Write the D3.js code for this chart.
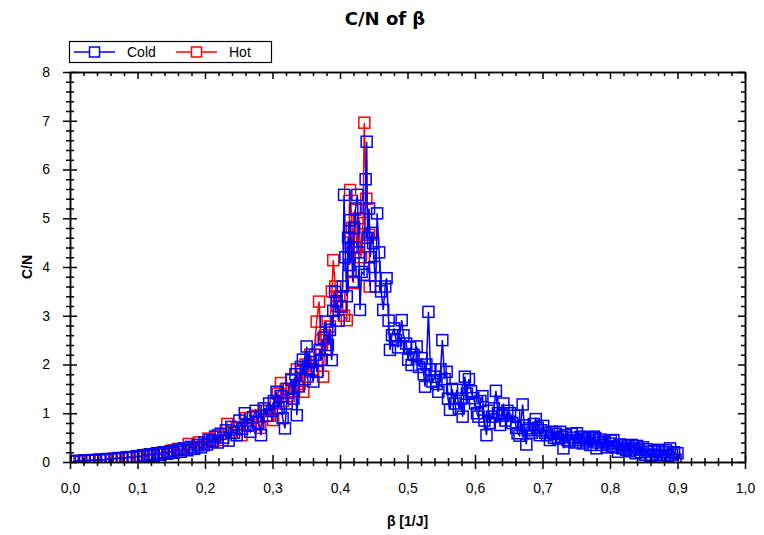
<!DOCTYPE html>
<html>
<head>
<meta charset="utf-8">
<script src="https://cdn.jsdelivr.net/npm/d3@7"></script>
<style>
  body { margin: 0; background: #fff; }
  svg text { font-family: "Liberation Sans", Arial, sans-serif; }
</style>
</head>
<body>
<svg id="chart" width="764" height="535"></svg>
<script>
// ---- data: [beta, C/N] ----
const cold = [
  [0.004,0.01],[0.010,0.02],[0.016,0.02],[0.022,0.03],[0.027,0.03],[0.033,0.04],[0.038,0.03],[0.044,0.05],
  [0.050,0.04],[0.055,0.06],[0.061,0.05],[0.066,0.07],[0.072,0.08],[0.077,0.07],[0.083,0.09],[0.088,0.10],
  [0.094,0.09],[0.099,0.12],[0.104,0.11],[0.109,0.14],[0.114,0.12],[0.119,0.16],[0.124,0.13],[0.129,0.18],
  [0.134,0.15],[0.139,0.20],[0.144,0.17],[0.149,0.22],[0.154,0.19],[0.159,0.25],[0.164,0.21],[0.169,0.28],
  [0.174,0.24],[0.179,0.31],[0.184,0.27],[0.189,0.35],[0.194,0.30],[0.199,0.40],[0.203,0.36],[0.207,0.45],
  [0.211,0.42],[0.215,0.52],[0.219,0.40],[0.223,0.58],[0.227,0.50],[0.231,0.65],[0.235,0.44],[0.239,0.72],
  [0.243,0.60],[0.247,0.55],[0.251,0.85],[0.255,0.68],[0.259,1.00],[0.263,0.75],[0.267,0.62],[0.271,0.92],
  [0.275,1.05],[0.279,0.80],[0.283,0.55],[0.287,1.10],[0.291,0.95],[0.295,1.20],[0.299,1.05],[0.302,1.25],
  [0.306,1.44],[0.309,1.10],[0.312,1.35],[0.315,0.90],[0.3185,0.69],[0.321,1.20],[0.324,1.50],[0.328,1.68],
  [0.331,1.30],[0.334,1.80],[0.336,0.96],[0.339,1.55],[0.342,1.95],[0.345,2.10],[0.348,1.70],[0.3506,2.37],
  [0.353,1.90],[0.356,2.05],[0.3605,1.65],[0.363,2.20],[0.366,1.85],[0.370,2.30],[0.373,2.10],[0.376,2.55],
  [0.379,2.88],[0.382,2.40],[0.385,2.71],[0.3877,2.09],[0.390,3.10],[0.3926,3.49],[0.395,3.30],[0.398,2.90],
  [0.401,3.19],[0.404,3.60],[0.406,5.48],[0.408,4.20],[0.410,3.40],[0.412,4.60],[0.414,4.04],[0.415,4.96],
  [0.417,4.40],[0.419,3.70],[0.421,4.80],[0.423,5.20],[0.4257,5.48],[0.428,4.30],[0.4296,3.12],[0.432,3.90],
  [0.4356,3.84],[0.438,5.80],[0.4395,6.57],[0.441,4.60],[0.443,5.20],[0.445,4.20],[0.447,4.70],[0.449,4.49],
  [0.451,4.00],[0.453,3.60],[0.455,5.10],[0.458,4.30],[0.461,3.50],[0.464,3.12],[0.467,3.60],[0.469,3.77],
  [0.472,2.90],[0.474,2.30],[0.477,2.60],[0.480,2.74],[0.483,2.50],[0.486,2.35],[0.4914,2.91],[0.494,2.60],
  [0.498,2.43],[0.501,2.10],[0.504,2.35],[0.506,1.99],[0.509,2.20],[0.5136,2.37],[0.517,1.95],[0.521,2.13],
  [0.524,1.80],[0.526,1.545],[0.528,2.00],[0.531,3.08],[0.534,1.90],[0.537,1.65],[0.5407,1.75],[0.543,1.60],
  [0.5457,1.44],[0.549,1.90],[0.5516,2.50],[0.555,1.70],[0.558,1.85],[0.560,1.30],[0.563,1.07],[0.566,1.50],
  [0.570,1.20],[0.573,1.48],[0.576,1.10],[0.579,1.30],[0.5817,0.93],[0.585,1.75],[0.588,1.40],[0.591,1.70],
  [0.594,1.45],[0.5975,1.31],[0.600,1.20],[0.603,1.00],[0.605,0.93],[0.608,1.25],[0.611,1.35],[0.614,0.85],
  [0.617,0.55],[0.620,1.05],[0.622,0.80],[0.625,0.93],[0.628,1.10],[0.631,1.46],[0.634,1.00],[0.637,0.76],
  [0.640,0.95],[0.642,1.20],[0.645,0.85],[0.648,1.05],[0.652,1.00],[0.655,0.80],[0.658,0.95],[0.661,0.70],
  [0.663,0.59],[0.666,0.54],[0.6706,1.18],[0.673,0.75],[0.676,0.36],[0.678,0.65],[0.681,0.69],[0.684,0.60],
  [0.687,0.78],[0.690,0.88],[0.693,0.70],[0.696,0.55],[0.698,0.65],[0.701,0.74],[0.704,0.60],[0.707,0.55],
  [0.711,0.45],[0.714,0.62],[0.717,0.50],[0.720,0.58],[0.723,0.48],[0.726,0.62],[0.729,0.52],[0.731,0.28],
  [0.734,0.55],[0.737,0.45],[0.740,0.42],[0.743,0.58],[0.746,0.50],[0.749,0.40],[0.751,0.59],[0.754,0.45],
  [0.757,0.52],[0.760,0.38],[0.763,0.48],[0.765,0.42],[0.768,0.50],[0.771,0.35],[0.774,0.45],[0.776,0.52],
  [0.778,0.49],[0.780,0.28],[0.783,0.40],[0.786,0.46],[0.789,0.35],[0.792,0.42],[0.795,0.30],[0.798,0.38],
  [0.801,0.44],[0.803,0.32],[0.805,0.45],[0.808,0.30],[0.812,0.21],[0.815,0.36],[0.818,0.28],[0.821,0.34],
  [0.824,0.25],[0.827,0.32],[0.830,0.22],[0.832,0.35],[0.835,0.28],[0.838,0.18],[0.840,0.33],[0.843,0.25],
  [0.846,0.20],[0.849,0.30],[0.852,0.15],[0.854,0.26],[0.857,0.21],[0.860,0.12],[0.862,0.04],[0.865,0.22],
  [0.868,0.15],[0.871,0.25],[0.874,0.10],[0.877,0.20],[0.880,0.14],[0.883,0.24],[0.886,0.12],[0.889,0.28],
  [0.892,0.15],[0.895,0.20],[0.897,0.05],[0.900,0.18]
];

const hot = [
  [0.006,0.02],[0.014,0.02],[0.021,0.03],[0.029,0.03],[0.037,0.04],[0.045,0.04],[0.053,0.05],[0.061,0.06],
  [0.069,0.06],[0.077,0.08],[0.085,0.09],[0.093,0.10],[0.101,0.11],[0.108,0.13],[0.116,0.15],[0.123,0.14],
  [0.131,0.18],[0.138,0.20],[0.146,0.19],[0.153,0.24],[0.161,0.27],[0.168,0.25],[0.176,0.37],[0.183,0.30],
  [0.191,0.40],[0.198,0.34],[0.205,0.48],[0.212,0.42],[0.219,0.55],[0.226,0.45],[0.233,0.78],[0.240,0.60],
  [0.247,0.70],[0.254,0.55],[0.261,0.90],[0.268,0.75],[0.275,0.95],[0.282,0.70],[0.289,1.05],[0.296,0.95],
  [0.301,0.86],[0.305,1.20],[0.308,1.40],[0.3126,1.62],[0.316,1.25],[0.320,1.50],[0.324,1.35],[0.328,1.70],
  [0.332,1.45],[0.336,1.90],[0.340,1.60],[0.343,1.85],[0.3457,1.44],[0.349,2.00],[0.352,1.75],[0.356,2.20],
  [0.360,1.90],[0.3654,2.88],[0.369,3.29],[0.372,2.50],[0.375,1.75],[0.378,2.60],[0.381,2.30],[0.385,2.78],
  [0.388,3.50],[0.390,4.14],[0.393,3.60],[0.396,3.20],[0.399,3.40],[0.4025,3.19],[0.406,3.00],[0.410,2.91],
  [0.413,4.50],[0.415,5.58],[0.418,4.80],[0.420,3.67],[0.422,5.17],[0.425,4.40],[0.428,5.00],[0.431,4.20],
  [0.434,4.90],[0.436,6.96],[0.439,5.40],[0.4434,4.66],[0.444,3.60]
];

const xTicks = [0, 0.1, 0.2, 0.3, 0.4, 0.5, 0.6, 0.7, 0.8, 0.9, 1.0];
const yTicks = [0, 1, 2, 3, 4, 5, 6, 7, 8];
const seriesNames = ['Cold', 'Hot'];
const seriesColors = ['#0000ff', '#ff0000'];

// ---- layout ----
const svg = d3.select('#chart');
const plotLeft = 70, plotRight = 745, plotTop = 72, plotBottom = 462;

const x = d3.scaleLinear().domain([0, 1]).range([plotLeft, plotRight]);
const y = d3.scaleLinear().domain([0, 8]).range([plotBottom, plotTop]);

const comma = v => d3.format('.1f')(v).replace('.', ',');

// title (wider face than the axis text)
svg.append('text')
  .attr('x', 385).attr('y', 25)
  .attr('text-anchor', 'middle')
  .style('font-family', '"DejaVu Sans", sans-serif')
  .attr('font-size', '18px').attr('font-weight', 'bold')
  .text('C/N of β');

// data layer (clipped to plot area)
svg.append('clipPath').attr('id', 'plotclip')
  .append('rect')
  .attr('x', plotLeft).attr('y', plotTop)
  .attr('width', plotRight - plotLeft).attr('height', plotBottom - plotTop);

const plot = svg.append('g').attr('clip-path', 'url(#plotclip)');

const line = d3.line().x(d => x(d[0])).y(d => y(d[1]));
const sq = 11;

function drawSeries(data, color) {
  const g = plot.append('g');
  g.append('path')
    .datum(data)
    .attr('fill', 'none')
    .attr('stroke', color)
    .attr('stroke-width', 1.5)
    .attr('d', line);
  g.selectAll('rect')
    .data(data)
    .join('rect')
    .attr('x', d => x(d[0]) - sq / 2)
    .attr('y', d => y(d[1]) - sq / 2)
    .attr('width', sq).attr('height', sq)
    .attr('fill', 'none')
    .attr('stroke', color)
    .attr('stroke-width', 1.5);
}

// Hot underneath, Cold on top
drawSeries(hot, seriesColors[1]);
drawSeries(cold, seriesColors[0]);

// ---- axes ----
const minorX = d3.range(0, 1.0001, 0.02).filter(v => Math.abs(v * 10 - Math.round(v * 10)) > 1e-6);
const minorY = d3.range(0, 8.0001, 0.2).filter(v => Math.abs(v - Math.round(v)) > 1e-6);

function styleAxis(g) {
  g.select('.domain').attr('stroke', '#000').attr('stroke-width', 1.5);
  g.selectAll('.tick line').attr('stroke', '#000').attr('stroke-width', 1.5);
}

// bottom
const bx = svg.append('g').attr('transform', `translate(0,${plotBottom})`)
  .call(d3.axisBottom(x).tickValues(xTicks).tickSize(7).tickSizeOuter(0).tickPadding(14).tickFormat(comma));
bx.selectAll('.tick line').attr('y1', -7);
bx.selectAll('.tick text').attr('font-size', '14px').attr('fill', '#000');
styleAxis(bx);
const bxm = svg.append('g').attr('transform', `translate(0,${plotBottom})`)
  .call(d3.axisBottom(x).tickValues(minorX).tickSize(4).tickSizeOuter(0).tickFormat(''));
bxm.selectAll('.tick line').attr('y1', -4);
styleAxis(bxm);

// left
const ly = svg.append('g').attr('transform', `translate(${plotLeft},0)`)
  .call(d3.axisLeft(y).tickValues(yTicks).tickSize(7).tickSizeOuter(0).tickPadding(13).tickFormat(d3.format('d')));
ly.selectAll('.tick line').attr('x1', 7);
ly.selectAll('.tick text').attr('font-size', '14px').attr('fill', '#000');
styleAxis(ly);
const lym = svg.append('g').attr('transform', `translate(${plotLeft},0)`)
  .call(d3.axisLeft(y).tickValues(minorY).tickSize(4).tickSizeOuter(0).tickFormat(''));
lym.selectAll('.tick line').attr('x1', 4);
styleAxis(lym);

// top (ticks inward)
const tx = svg.append('g').attr('transform', `translate(0,${plotTop})`)
  .call(d3.axisBottom(x).tickValues(xTicks).tickSize(7).tickSizeOuter(0).tickFormat(''));
styleAxis(tx);
const txm = svg.append('g').attr('transform', `translate(0,${plotTop})`)
  .call(d3.axisBottom(x).tickValues(minorX).tickSize(4).tickSizeOuter(0).tickFormat(''));
styleAxis(txm);

// right (ticks inward)
const ry = svg.append('g').attr('transform', `translate(${plotRight},0)`)
  .call(d3.axisLeft(y).tickValues(yTicks).tickSize(7).tickSizeOuter(0).tickFormat(''));
styleAxis(ry);
const rym = svg.append('g').attr('transform', `translate(${plotRight},0)`)
  .call(d3.axisLeft(y).tickValues(minorY).tickSize(4).tickSizeOuter(0).tickFormat(''));
styleAxis(rym);

// axis titles
svg.append('text')
  .attr('x', (plotLeft + plotRight) / 2).attr('y', 526)
  .attr('text-anchor', 'middle')
  .attr('font-size', '14px').attr('font-weight', 'bold')
  .text('β [1/J]');

svg.append('text')
  .attr('transform', `translate(32,${(plotTop + plotBottom) / 2}) rotate(-90)`)
  .attr('text-anchor', 'middle')
  .attr('font-size', '14px').attr('font-weight', 'bold')
  .text('C/N');

// ---- legend ----
const legend = svg.append('g');
legend.append('rect')
  .attr('x', 69.5).attr('y', 41.5)
  .attr('width', 202).attr('height', 21)
  .attr('fill', '#fff').attr('stroke', '#000').attr('stroke-width', 1.2);

const legendItems = [
  { name: seriesNames[0], color: seriesColors[0], x0: 74 },
  { name: seriesNames[1], color: seriesColors[1], x0: 176 }
];
legendItems.forEach(it => {
  const g = legend.append('g');
  g.append('line')
    .attr('x1', it.x0).attr('x2', it.x0 + 41)
    .attr('y1', 52).attr('y2', 52)
    .attr('stroke', it.color).attr('stroke-width', 1.5);
  g.append('rect')
    .attr('x', it.x0 + 20.5 - 5).attr('y', 47)
    .attr('width', 10).attr('height', 10)
    .attr('fill', '#fff').attr('stroke', it.color).attr('stroke-width', 1.5);
  g.append('text')
    .attr('x', it.x0 + 53).attr('y', 57)
    .attr('font-size', '14px')
    .text(it.name);
});
</script>
</body>
</html>
